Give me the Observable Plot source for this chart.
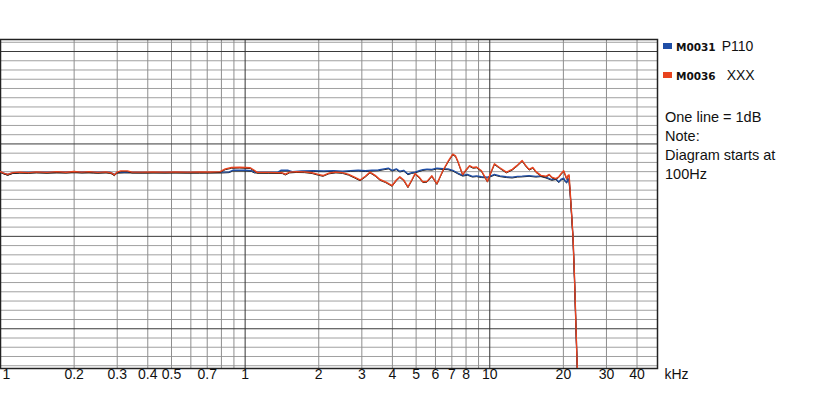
<!DOCTYPE html>
<html><head><meta charset="utf-8">
<script src="https://cdn.jsdelivr.net/npm/d3@7"></script>
<script src="https://cdn.jsdelivr.net/npm/@observablehq/plot@0.6"></script>
<style>
body{margin:0;background:#fff}
#wrap{position:relative;width:822px;height:411px;overflow:hidden;background:#fff}
.lg{position:absolute;font-family:"Liberation Sans",Arial,sans-serif;color:#111;white-space:nowrap}
.sw{position:absolute;width:9px;height:6px}
.code{font-family:"DejaVu Sans",Verdana,sans-serif;font-weight:bold;font-size:10.5px}
</style></head><body><div id="wrap"></div>
<script>
// Frequencies in kHz, levels in dB
const seriesNames = ["M0031 P110", "M0036 XXX"];
const seriesColors = ["#1f4ea6", "#e8431e"];

const blueCurve = [[0.100,-3.00],[0.103,-3.15],[0.107,-3.30],[0.112,-3.12],[0.120,-3.07],[0.140,-3.05],[0.170,-3.06],[0.200,-3.04],[0.240,-3.06],[0.280,-3.05],[0.292,-3.30],[0.300,-3.08],[0.320,-3.05],[0.400,-3.07],[0.500,-3.06],[0.650,-3.07],[0.800,-3.06],[0.860,-3.02],[0.890,-2.85],[1.000,-2.85],[1.060,-2.88],[1.090,-3.05],[1.250,-3.06],[1.360,-3.05],[1.400,-2.85],[1.500,-2.85],[1.560,-3.00],[1.700,-2.92],[1.900,-2.90],[2.100,-2.92],[2.300,-2.88],[2.500,-2.95],[2.700,-2.88],[2.900,-2.85],[3.100,-2.90],[3.300,-2.85],[3.500,-2.82],[3.700,-2.70],[3.850,-2.62],[3.990,-2.85],[4.150,-2.70],[4.290,-2.95],[4.450,-2.85],[4.630,-3.25],[4.800,-3.10],[4.950,-3.05],[5.150,-2.90],[5.330,-2.78],[5.540,-2.72],[5.800,-2.75],[6.080,-2.62],[6.440,-2.68],[6.750,-2.70],[7.060,-2.85],[7.400,-3.15],[7.750,-3.40],[8.100,-3.30],[8.500,-3.50],[8.830,-3.45],[9.250,-3.55],[9.790,-3.60],[10.10,-3.45],[10.45,-3.30],[11.00,-3.45],[11.69,-3.55],[12.36,-3.60],[13.00,-3.50],[13.57,-3.48],[14.48,-3.42],[15.45,-3.50],[16.19,-3.45],[16.96,-3.60],[17.94,-3.85],[18.62,-3.75],[19.15,-4.10],[19.60,-3.80],[20.06,-3.70],[20.40,-4.05],[20.63,-4.15],[20.90,-3.75],[21.10,-4.00],[21.30,-5.20],[21.60,-7.60],[21.90,-10.2],[22.20,-14.5],[22.60,-21.3],[22.90,-26.0],[23.20,-30.0]];

const redCurve = [[0.100,-3.00],[0.103,-3.15],[0.107,-3.30],[0.112,-3.10],[0.120,-3.05],[0.130,-3.10],[0.140,-3.02],[0.155,-3.08],[0.170,-3.00],[0.185,-3.06],[0.200,-2.98],[0.215,-3.05],[0.230,-3.00],[0.250,-3.08],[0.270,-3.02],[0.285,-3.15],[0.292,-3.35],[0.300,-3.05],[0.310,-2.92],[0.330,-2.92],[0.345,-3.05],[0.380,-3.05],[0.420,-3.02],[0.470,-3.05],[0.520,-3.03],[0.580,-3.05],[0.650,-3.04],[0.720,-3.03],[0.790,-3.00],[0.830,-2.70],[0.880,-2.55],[0.950,-2.52],[1.050,-2.58],[1.090,-2.85],[1.120,-3.08],[1.250,-3.08],[1.350,-3.10],[1.420,-3.12],[1.460,-3.28],[1.520,-3.05],[1.620,-3.00],[1.750,-3.02],[1.880,-3.12],[1.990,-3.30],[2.080,-3.42],[2.200,-3.15],[2.350,-3.05],[2.500,-3.10],[2.650,-3.30],[2.800,-3.60],[2.950,-3.90],[3.100,-3.50],[3.240,-3.05],[3.400,-3.40],[3.560,-3.85],[3.750,-4.10],[3.990,-4.50],[4.150,-3.90],[4.290,-3.55],[4.450,-3.90],[4.630,-4.65],[4.800,-3.90],[4.950,-3.20],[5.150,-3.60],[5.330,-4.10],[5.540,-4.05],[5.800,-3.45],[6.080,-4.30],[6.250,-3.60],[6.440,-2.85],[6.750,-1.90],[7.060,-1.10],[7.250,-1.30],[7.400,-1.85],[7.750,-3.30],[8.000,-2.80],[8.270,-2.35],[8.550,-2.55],[8.830,-2.50],[9.250,-2.90],[9.790,-4.05],[10.10,-3.10],[10.45,-2.15],[10.96,-2.55],[11.69,-3.05],[12.36,-2.75],[12.90,-2.35],[13.57,-1.80],[14.00,-2.30],[14.48,-2.75],[15.00,-2.55],[15.45,-3.00],[16.19,-3.40],[16.96,-3.50],[17.50,-3.30],[17.94,-3.60],[18.62,-3.75],[19.15,-3.55],[19.60,-3.20],[20.06,-2.90],[20.40,-3.40],[20.63,-3.75],[20.90,-3.40],[21.10,-3.35],[21.30,-5.00],[21.60,-7.50],[21.90,-10.1],[22.20,-14.4],[22.60,-21.2],[22.90,-26.0],[23.20,-30.0]];

const freqGrid = [0.2,0.3,0.4,0.5,0.6,0.7,0.8,0.9,2,3,4,5,6,7,8,9,20,30,40];
const decadeGrid = [1,10];
const dbLines = d3.range(-24, 12);
const tickValues = [0.2,0.3,0.4,0.5,0.7,1,2,3,4,5,6,7,8,10,20,30,40];
const tickLabels = ["0.2","0.3","0.4","0.5","0.7","1","2","3","4","5","6","7","8","10","20","30","40"];
const firstTickLabel = "1";
const unitLabel = "kHz";
const noteLines = ["One line = 1dB", "Note:", "Diagram starts at", "100Hz"];

const toRows = (arr) => arr.map(([f, db]) => ({f, db}));
const blueData = toRows(blueCurve);
const redData = toRows(redCurve);

const labelFont = '"Liberation Sans Narrow","Arial Narrow","Liberation Sans",Arial,sans-serif';

const plot = Plot.plot({
  width: 822, height: 411,
  marginLeft: 0, marginRight: 165, marginTop: 39, marginBottom: 43,
  x: {type: "log", domain: [0.1, 48.5], axis: null},
  y: {domain: [-24.3, 11.3], axis: null},
  style: {background: "#fff"},
  marks: [
    Plot.ruleY(dbLines.filter(d => d % 10 !== 0), {stroke: "#a0a0a0", strokeWidth: 1}),
    Plot.ruleX(freqGrid, {stroke: "#8e8e8e", strokeWidth: 1}),
    Plot.ruleY(dbLines.filter(d => d % 10 === 0), {stroke: "#3a3a3a", strokeWidth: 1}),
    Plot.ruleX(decadeGrid, {stroke: "#333", strokeWidth: 1}),
    Plot.frame({stroke: "#222", strokeWidth: 1.5}),
    Plot.line(blueData, {x: "f", y: "db", stroke: "#1a1a1a", strokeWidth: 1, dy: 0.8, clip: true}),
    Plot.line(blueData, {x: "f", y: "db", stroke: seriesColors[0], strokeWidth: 1.3, clip: true}),
    Plot.line(redData, {x: "f", y: "db", stroke: "#2a1a14", strokeWidth: 1, dy: 0.8, clip: true}),
    Plot.line(redData, {x: "f", y: "db", stroke: seriesColors[1], strokeWidth: 1.4, clip: true}),
    Plot.text(tickValues, {x: d => d, text: (d, i) => tickLabels[i], frameAnchor: "bottom", dy: 10, fontSize: 14, fontFamily: labelFont, fill: "#111"}),
    Plot.text([firstTickLabel], {text: d => d, frameAnchor: "bottom-left", dx: 2, dy: 10, textAnchor: "start", fontSize: 14, fontFamily: labelFont, fill: "#111"}),
    Plot.text([unitLabel], {text: d => d, frameAnchor: "bottom-right", dx: 7, dy: 10, textAnchor: "start", fontSize: 14, fontFamily: labelFont, fill: "#111"})
  ]
});

const wrap = document.getElementById("wrap");
wrap.appendChild(plot);

function add(html, style, cls) {
  const d = document.createElement("div");
  d.className = cls;
  d.setAttribute("style", style);
  d.innerHTML = html;
  wrap.appendChild(d);
}
const [n0a, n0b] = seriesNames[0].split(" ");
const [n1a, n1b] = seriesNames[1].split(" ");
add("", `left:663px;top:43px;background:${seriesColors[0]}`, "sw");
add(`<span class="code">${n0a}</span><span style="margin-left:6px">${n0b}</span>`, "left:676px;top:39px;font-size:14px;line-height:14px", "lg");
add("", `left:663px;top:72px;background:${seriesColors[1]}`, "sw");
add(`<span class="code">${n1a}</span><span style="margin-left:11px">${n1b}</span>`, "left:676px;top:68px;font-size:14px;line-height:14px", "lg");
add(noteLines.join("<br>"), "left:665px;top:108px;font-size:14.5px;line-height:19px", "lg");
</script></body></html>
